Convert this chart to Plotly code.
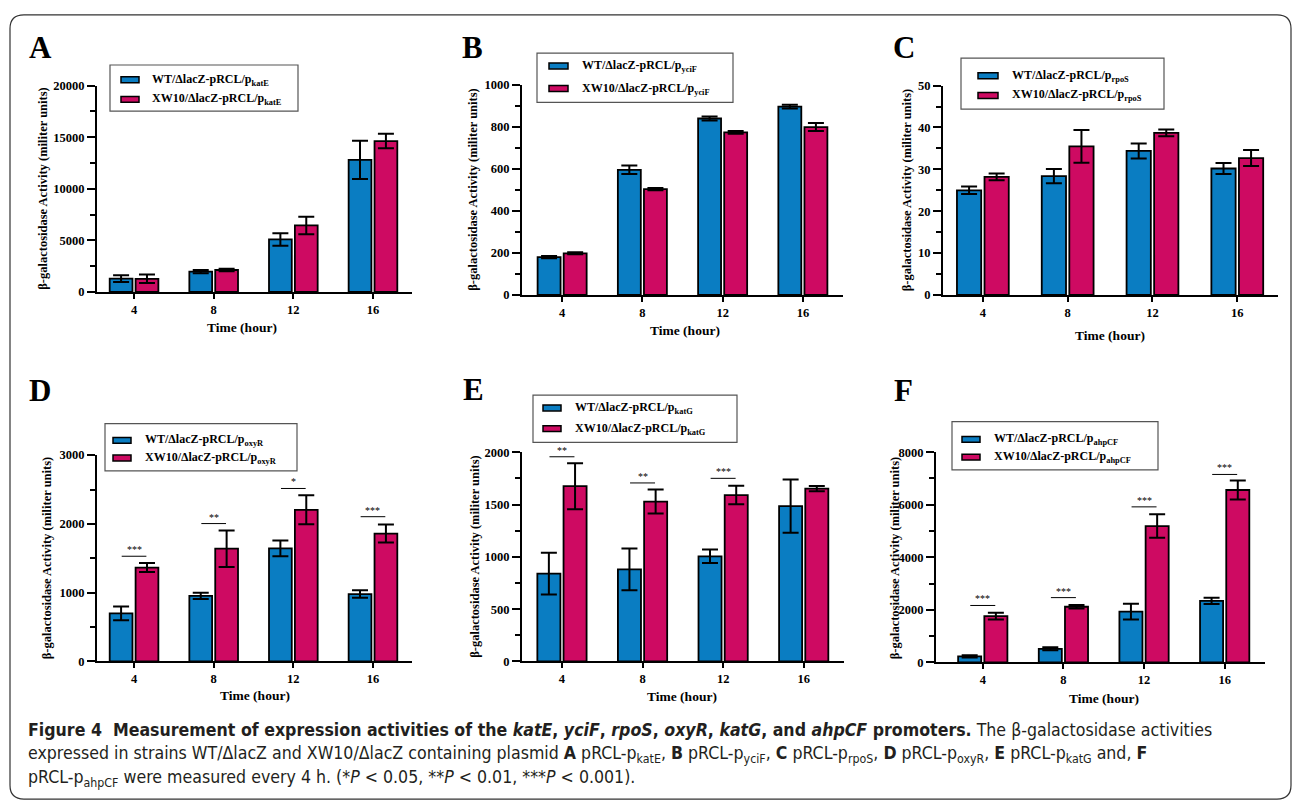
import plotly.graph_objects as go

# ---------------- data ----------------
hours = [4, 8, 12, 16]
panel_letters = ["A", "B", "C", "D", "E", "F"]
promoters = ["katE", "yciF", "rpoS", "oxyR", "katG", "ahpCF"]

wt_A = [1300, 1970, 5090, 12810]
wt_A_err = [330, 150, 600, 1850]
xw_A = [1280, 2130, 6450, 14630]
xw_A_err = [420, 130, 850, 700]

wt_B = [180, 595, 839, 895]
wt_B_err = [5, 20, 10, 9]
xw_B = [198, 503, 773, 798]
xw_B_err = [5, 5, 6, 19]

wt_C = [25.0, 28.4, 34.4, 30.2]
wt_C_err = [0.9, 1.7, 1.8, 1.3]
xw_C = [28.2, 35.5, 38.7, 32.7]
xw_C_err = [0.8, 3.9, 0.8, 1.9]

wt_D = [700, 955, 1645, 980]
wt_D_err = [100, 45, 115, 55]
xw_D = [1365, 1640, 2205, 1860]
xw_D_err = [65, 265, 210, 130]
sig_D = ["***", "**", "*", "***"]
sig_D_y = [1530, 2005, 2515, 2105]

wt_E = [840, 880, 1005, 1485]
wt_E_err = [200, 200, 65, 255]
xw_E = [1675, 1528, 1590, 1652]
xw_E_err = [220, 115, 88, 25]
sig_E = ["**", "**", "***", ""]
sig_E_y = [1956, 1706, 1750, None]

wt_F = [230, 520, 1935, 2345]
wt_F_err = [45, 55, 300, 120]
xw_F = [1760, 2120, 5190, 6560]
xw_F_err = [130, 70, 450, 360]
sig_F = ["***", "***", "***", "***"]
sig_F_y = [2168, 2467, 5919, 7153]

y_max = [20000, 1000, 50, 3000, 2000, 8000]
y_major = [5000, 200, 10, 1000, 500, 2000]
y_minor = [2500, 100, 5, 500, 250, 1000]

# ---------------- style / layout ----------------
W, H = 1295, 810
BLUE = "#0A7DC2"
RED = "#CE0A62"
SERIF = "Liberation Serif"
CAP_FONT = "Liberation Sans Narrow, DejaVu Sans Condensed, Open Sans, sans-serif"


def px(x):
    return x / W


def py(y):
    return 1 - y / H


# pixel geometry of every panel: plot area (x0, x1, ytop, ybottom), x range
geom = [
    dict(x=(97, 412), y=(80, 290), xr=(-0.465, 3.49), lab=(27, 41), ytit=43, xtit=(242, 326),
         leg=dict(box=(110, 59, 298, 106), rows=(74, 94), sw=(121, 139), tx=150)),
    dict(x=(522, 843), y=(79, 293), xr=(-0.5, 3.5), lab=(460, 41), ytit=473, xtit=(685, 329),
         leg=dict(box=(537, 47, 733, 97), rows=(60, 83), sw=(549, 568), tx=580)),
    dict(x=(943, 1278), y=(80, 293), xr=(-0.47, 3.48), lab=(891, 41), ytit=907, xtit=(1110, 334),
         leg=dict(box=(961, 52, 1164, 104), rows=(70, 90), sw=(978, 998), tx=1010)),
    dict(x=(97, 412), y=(456, 666), xr=(-0.465, 3.49), lab=(27, 390), ytit=47, xtit=(255, 701),
         leg=dict(box=(105, 424, 297, 472), rows=(441, 459), sw=(113, 131), tx=143)),
    dict(x=(522, 844), y=(453, 666), xr=(-0.496, 3.5), lab=(461, 389), ytit=475, xtit=(682, 702),
         leg=dict(box=(533, 395, 737, 443), rows=(408, 429), sw=(543, 561), tx=573)),
    dict(x=(936, 1265), y=(453, 667), xr=(-0.58, 3.5), lab=(892, 390), ytit=895, xtit=(1104, 704),
         leg=dict(box=(952, 422, 1158, 471), rows=(440, 458), sw=(962, 980), tx=992)),
]

wt_all = [(wt_A, wt_A_err), (wt_B, wt_B_err), (wt_C, wt_C_err), (wt_D, wt_D_err), (wt_E, wt_E_err), (wt_F, wt_F_err)]
xw_all = [(xw_A, xw_A_err), (xw_B, xw_B_err), (xw_C, xw_C_err), (xw_D, xw_D_err), (xw_E, xw_E_err), (xw_F, xw_F_err)]
sig_all = [None, None, None, (sig_D, sig_D_y), (sig_E, sig_E_y), (sig_F, sig_F_y)]

xs = list(range(len(hours)))
fig = go.Figure()
shapes = []
annotations = []
tickfont = dict(family=SERIF, size=12.5, color="black", weight="bold")

for i, g in enumerate(geom):
    n = "" if i == 0 else str(i + 1)
    xa, ya = "x" + n, "y" + n
    (wv, we), (rv, re_) = wt_all[i], xw_all[i]
    for vals, errs, col in [(wv, we, BLUE), (rv, re_, RED)]:
        fig.add_trace(go.Bar(
            x=xs, y=vals, xaxis=xa, yaxis=ya, showlegend=False,
            marker=dict(color=col, line=dict(color="black", width=1.8)),
            error_y=dict(type="data", array=errs, color="black", thickness=2, width=8),
        ))
    if sig_all[i] is not None:
        labels, heights = sig_all[i]
        lx, ly = [], []
        for k, (lab, h) in enumerate(zip(labels, heights)):
            if not lab:
                continue
            lx += [xs[k] - 0.155, xs[k] + 0.155, None]
            ly += [h, h, None]
            annotations.append(dict(x=xs[k], y=h, xref=xa, yref=ya, text=lab, showarrow=False,
                                    xanchor="center", yanchor="bottom", yshift=-1,
                                    font=dict(family=SERIF, size=10, color="black")))
        fig.add_trace(go.Scatter(x=lx, y=ly, xaxis=xa, yaxis=ya, mode="lines", showlegend=False,
                                 line=dict(color="black", width=1), hoverinfo="skip"))

    fig.layout["xaxis" + n] = dict(
        domain=[px(g["x"][0]), px(g["x"][1])], anchor=ya, range=list(g["xr"]),
        tickmode="array", tickvals=xs, ticktext=[str(h) for h in hours],
        showline=True, linecolor="black", linewidth=2, ticks="outside", ticklen=5,
        tickwidth=1.5, tickcolor="black", showgrid=False, zeroline=False, tickfont=tickfont,
        fixedrange=True,
    )
    fig.layout["yaxis" + n] = dict(
        domain=[py(g["y"][1]), py(g["y"][0])], anchor=xa, range=[0, y_max[i]],
        dtick=y_major[i], tick0=0, tickformat="d", showline=True, linecolor="black", linewidth=2,
        ticks="outside", ticklen=8, tickwidth=1.5, tickcolor="black",
        minor=dict(dtick=y_minor[i], tick0=0, ticks="outside", ticklen=5, tickwidth=1.5, tickcolor="black"),
        showgrid=False, zeroline=False, tickfont=tickfont, fixedrange=True,
    )

    # panel letter
    annotations.append(dict(x=px(g["lab"][0]), y=py(g["lab"][1]), xref="paper", yref="paper",
                            text=panel_letters[i], showarrow=False, xanchor="left", yanchor="middle",
                            font=dict(family=SERIF, size=31, color="black", weight="bold")))
    # y title
    yc = (g["y"][0] + g["y"][1]) / 2
    annotations.append(dict(x=px(g["ytit"]), y=py(yc), xref="paper", yref="paper",
                            text="β-galactosidase Activity (militer units)", textangle=-90,
                            showarrow=False, xanchor="center", yanchor="middle",
                            font=dict(family=SERIF, size=12.5, color="black", weight="bold")))
    # x title
    annotations.append(dict(x=px(g["xtit"][0]), y=py(g["xtit"][1]), xref="paper", yref="paper",
                            text="Time (hour)", showarrow=False, xanchor="center", yanchor="middle",
                            font=dict(family=SERIF, size=13.5, color="black", weight="bold")))
    # legend box
    L = g["leg"]
    bx0, by0, bx1, by1 = L["box"]
    shapes.append(dict(type="rect", xref="paper", yref="paper", x0=px(bx0), x1=px(bx1),
                       y0=py(by1), y1=py(by0), line=dict(color="#555555", width=1.2),
                       fillcolor="rgba(0,0,0,0)"))
    names = ["WT/ΔlacZ-pRCL/p<sub>%s</sub>" % promoters[i], "XW10/ΔlacZ-pRCL/p<sub>%s</sub>" % promoters[i]]
    for ry, col, nm in zip(L["rows"], [BLUE, RED], names):
        shapes.append(dict(type="rect", xref="paper", yref="paper", x0=px(L["sw"][0]), x1=px(L["sw"][1]),
                           y0=py(ry + 3), y1=py(ry - 3), fillcolor=col, line=dict(color="black", width=1.5)))
        annotations.append(dict(x=px(L["tx"]), y=py(ry), xref="paper", yref="paper", text=nm,
                                showarrow=False, xanchor="left", yanchor="middle",
                                font=dict(family=SERIF, size=12, color="black", weight="bold")))

# caption
cap1 = ("<b>Figure 4  Measurement of expression activities of the <i>katE</i>, <i>yciF</i>, <i>rpoS</i>, "
        "<i>oxyR</i>, <i>katG</i>, and <i>ahpCF</i> promoters.</b> The β-galactosidase activities")
cap2 = ("expressed in strains WT/ΔlacZ and XW10/ΔlacZ containing plasmid <b>A</b> pRCL-p<sub>katE</sub>, "
        "<b>B</b> pRCL-p<sub>yciF</sub>, <b>C</b> pRCL-p<sub>rpoS</sub>, <b>D</b> pRCL-p<sub>oxyR</sub>, "
        "<b>E</b> pRCL-p<sub>katG</sub> and, <b>F</b>")
cap3 = ("pRCL-p<sub>ahpCF</sub> were measured every 4 h. (*<i>P</i> < 0.05, **<i>P</i> < 0.01, "
        "***<i>P</i> < 0.001).")
for txt, yy in zip([cap1, cap2, cap3], [736, 761, 785]):
    annotations.append(dict(x=px(26), y=py(yy), xref="paper", yref="paper", text=txt, showarrow=False,
                            xanchor="left", yanchor="middle",
                            font=dict(family=CAP_FONT, size=17.6, color="#231F20")))

# rounded frame
fx0, fy0, fx1, fy1, r = 10, 8, 1291, 806, 14
path = (f"M {px(fx0 + r)} {py(fy0)} L {px(fx1 - r)} {py(fy0)} Q {px(fx1)} {py(fy0)} {px(fx1)} {py(fy0 + r)} "
        f"L {px(fx1)} {py(fy1 - r)} Q {px(fx1)} {py(fy1)} {px(fx1 - r)} {py(fy1)} "
        f"L {px(fx0 + r)} {py(fy1)} Q {px(fx0)} {py(fy1)} {px(fx0)} {py(fy1 - r)} "
        f"L {px(fx0)} {py(fy0 + r)} Q {px(fx0)} {py(fy0)} {px(fx0 + r)} {py(fy0)} Z")
shapes.append(dict(type="path", xref="paper", yref="paper", path=path,
                   line=dict(color="#333333", width=1.2), fillcolor="rgba(0,0,0,0)"))

fig.update_layout(
    width=W, height=H, margin=dict(l=0, r=0, t=0, b=0),
    paper_bgcolor="white", plot_bgcolor="white",
    barmode="group", bargap=0.35, bargroupgap=0.12,
    shapes=shapes, annotations=annotations, showlegend=False,
    font=dict(family=SERIF, color="black"),
)

fig.write_html("out.html", config=dict(displayModeBar=False),
               post_script="document.body.style.margin='0';document.body.style.overflow='hidden';")
